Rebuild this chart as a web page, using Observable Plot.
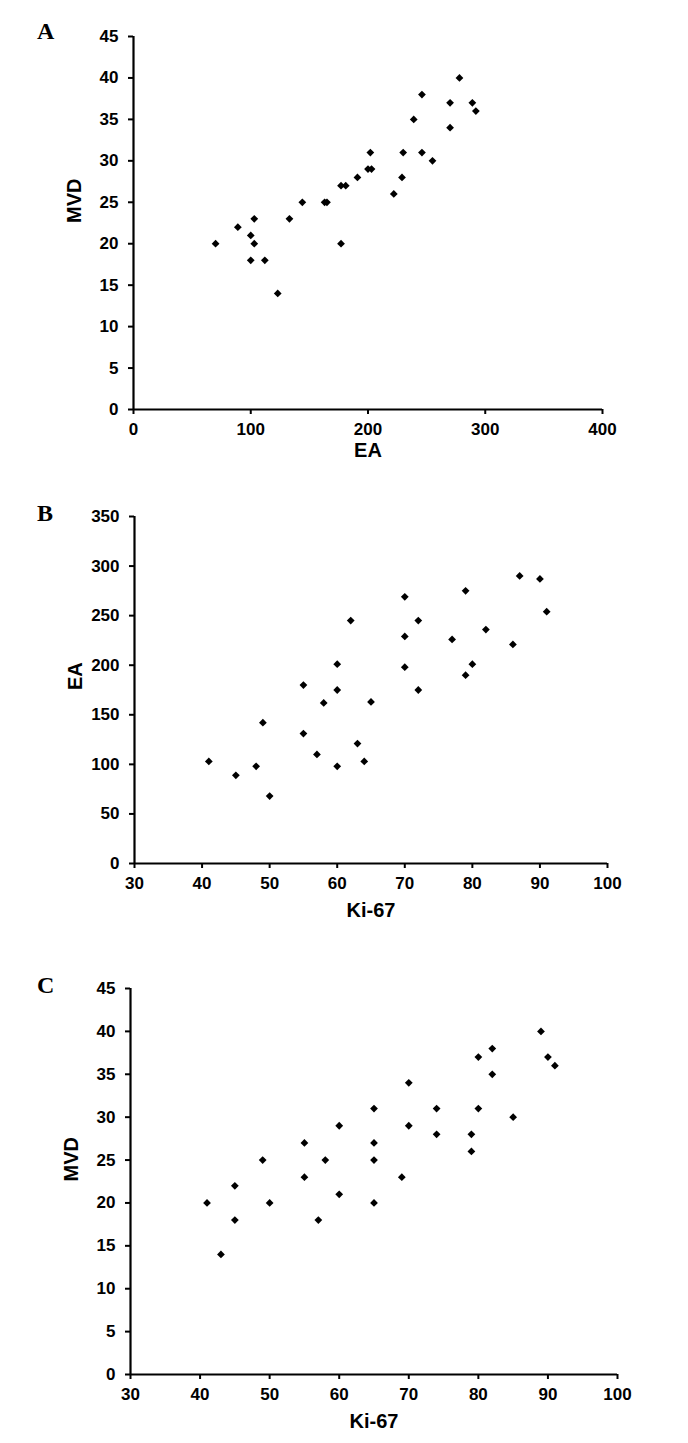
<!DOCTYPE html>
<html>
<head>
<meta charset="utf-8">
<script src="https://cdn.jsdelivr.net/npm/d3@7"></script>
<script src="https://cdn.jsdelivr.net/npm/@observablehq/plot@0.6"></script>
<style>
  html, body { margin: 0; padding: 0; background: #fff; }
  #wrap { position: relative; width: 688px; height: 1443px; background: #fff; }
  .panel { position: absolute; left: 0; }
  .letter { position: absolute; left: 37px; font-family: "Liberation Serif", "Times New Roman", serif; font-weight: bold; font-size: 24px; line-height: 24px; color: #000; }
</style>
</head>
<body>
<div id="wrap">
  <div class="letter" style="top:19px">A</div>
  <div class="letter" style="top:501px">B</div>
  <div class="letter" style="top:973px">C</div>
  <div class="panel" id="pA" style="top:0px"></div>
  <div class="panel" id="pB" style="top:480px"></div>
  <div class="panel" id="pC" style="top:950px"></div>
</div>
<script>
// Panel A: EA (x) vs MVD (y)
const eaA  = [70, 89, 100, 103, 103, 100, 112, 123, 133, 144, 163, 165, 177, 181, 177, 191, 200, 203, 202, 222, 229, 230, 246, 246, 239, 255, 270, 270, 278, 289, 292];
const mvdA = [20, 22, 21, 23, 20, 18, 18, 14, 23, 25, 25, 25, 27, 27, 20, 28, 29, 29, 31, 26, 28, 31, 31, 38, 35, 30, 37, 34, 40, 37, 36];

// Panel B: Ki-67 (x) vs EA (y)
const ki67B = [41, 45, 48, 49, 50, 55, 55, 57, 58, 60, 60, 60, 62, 63, 64, 65, 70, 70, 70, 72, 72, 77, 79, 79, 80, 82, 86, 87, 90, 91];
const eaB   = [103, 89, 98, 142, 68, 180, 131, 110, 162, 201, 175, 98, 245, 121, 103, 163, 269, 229, 198, 245, 175, 226, 275, 190, 201, 236, 221, 290, 287, 254];

// Panel C: Ki-67 (x) vs MVD (y)
const ki67C = [41, 43, 45, 45, 49, 50, 55, 55, 57, 58, 60, 60, 65, 65, 65, 65, 69, 70, 70, 74, 74, 79, 79, 80, 80, 82, 82, 85, 89, 90, 91];
const mvdC  = [20, 14, 22, 18, 25, 20, 27, 23, 18, 25, 29, 21, 31, 27, 25, 20, 23, 34, 29, 31, 28, 28, 26, 37, 31, 38, 35, 30, 40, 37, 36];

// Tick values
const ticksEA   = [0, 100, 200, 300, 400];
const ticksMVD  = [0, 5, 10, 15, 20, 25, 30, 35, 40, 45];
const ticksKi67 = [30, 40, 50, 60, 70, 80, 90, 100];
const ticksEAy  = [0, 50, 100, 150, 200, 250, 300, 350];

const font = "'Liberation Sans', Arial, sans-serif";

function panel({xs, ys, xDomain, yDomain, xTicks, yTicks, xLabel, yLabel, height, mt, mb, ml, mr, xLabelDy}) {
  const data = xs.map((x, i) => ({x, y: ys[i]}));
  return Plot.plot({
    width: 688,
    height,
    marginTop: mt, marginBottom: mb, marginLeft: ml, marginRight: mr,
    style: {fontFamily: font, fontSize: "17px", fontWeight: "bold", color: "#000", background: "transparent", overflow: "visible"},
    x: {domain: xDomain, ticks: xTicks, label: null},
    y: {domain: yDomain, ticks: yTicks, label: null},
    marks: [
      Plot.axisX({ticks: xTicks, tickSize: 5, tickPadding: 8, strokeWidth: 2, label: null, fill: "#000", fontSize: 17, fontWeight: "bold"}),
      Plot.axisY({ticks: yTicks, tickSize: 5, tickPadding: 10, strokeWidth: 2, label: null, fill: "#000", fontSize: 17, fontWeight: "bold"}),
      Plot.ruleY([yDomain[0]], {stroke: "#000", strokeWidth: 2.2}),
      Plot.ruleX([xDomain[0]], {stroke: "#000", strokeWidth: 2.2}),
      Plot.dot(data, {x: "x", y: "y", symbol: "diamond2", r: 3.5, fill: "#000", stroke: null}),
      Plot.text([xLabel], {frameAnchor: "bottom", dy: xLabelDy, text: d => d, fontSize: 20, fontWeight: "bold", fill: "#000"}),
      Plot.text([yLabel], {frameAnchor: "left", dx: -59, rotate: -90, text: d => d, fontSize: 20, fontWeight: "bold", fill: "#000"})
    ]
  });
}

document.getElementById("pA").append(panel({
  xs: eaA, ys: mvdA, xDomain: [0, 400], yDomain: [0, 45],
  xTicks: ticksEA, yTicks: ticksMVD, xLabel: "EA", yLabel: "MVD",
  height: 470, mt: 36, mb: 61, ml: 133, mr: 86, xLabelDy: 47
}));

document.getElementById("pB").append(panel({
  xs: ki67B, ys: eaB, xDomain: [30, 100], yDomain: [0, 350],
  xTicks: ticksKi67, yTicks: ticksEAy, xLabel: "Ki-67", yLabel: "EA",
  height: 470, mt: 36, mb: 87, ml: 134, mr: 81, xLabelDy: 53
}));

document.getElementById("pC").append(panel({
  xs: ki67C, ys: mvdC, xDomain: [30, 100], yDomain: [0, 45],
  xTicks: ticksKi67, yTicks: ticksMVD, xLabel: "Ki-67", yLabel: "MVD",
  height: 493, mt: 38, mb: 69, ml: 130, mr: 71, xLabelDy: 53
}));
</script>
</body>
</html>
